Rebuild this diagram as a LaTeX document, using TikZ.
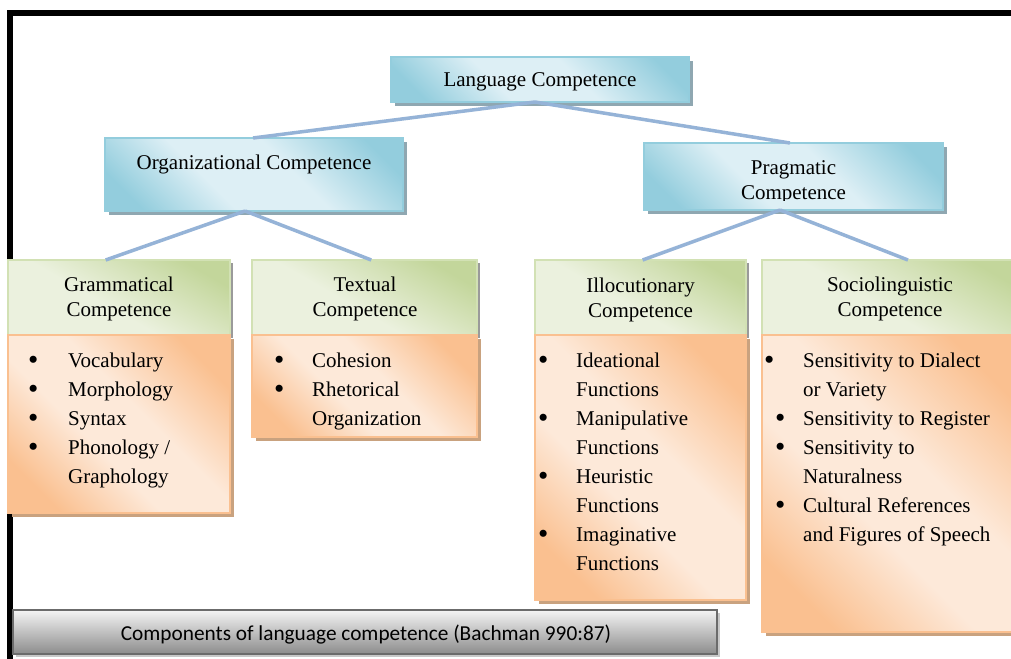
\documentclass[tikz,border=0pt]{standalone}
\usepackage{fontspec}
\setmainfont{Liberation Serif}
\newfontfamily\capfont{Carlito}
\usetikzlibrary{shadows,calc}
\definecolor{blueL}{HTML}{DDEFF5}
\definecolor{blueD}{HTML}{93CDDD}
\definecolor{blueB}{HTML}{93CDDD}
\definecolor{blueS}{HTML}{8FA7B1}
\definecolor{greenD}{HTML}{C3D69B}
\definecolor{greenL}{HTML}{EBF1DE}
\definecolor{greenB}{HTML}{D2E1B4}
\definecolor{greenS}{HTML}{9A9A9A}
\definecolor{orangeD}{HTML}{FAC090}
\definecolor{orangeL}{HTML}{FDE9D9}
\definecolor{orangeB}{HTML}{FAC090}
\definecolor{orangeS}{HTML}{C9A27F}
\definecolor{lineC}{HTML}{95B3D7}
\definecolor{capB}{HTML}{6B6B6B}
\definecolor{capT}{HTML}{F4F4F4}
\definecolor{capD}{HTML}{8C8C8C}
\definecolor{capS}{HTML}{C8C8C8}
\pgfdeclarehorizontalshading{blueband}{100bp}{color(0bp)=(blueD); color(22bp)=(blueD); color(40bp)=(blueL); color(58bp)=(blueL); color(78bp)=(blueD); color(100bp)=(blueD)}
\pgfdeclarehorizontalshading{orangeband}{100bp}{color(0bp)=(orangeD); color(24bp)=(orangeD); color(42bp)=(orangeL); color(56bp)=(orangeL); color(76bp)=(orangeD); color(100bp)=(orangeD)}
\pgfdeclarehorizontalshading{greenband}{100bp}{color(0bp)=(greenL); color(45bp)=(greenL); color(75bp)=(greenD); color(100bp)=(greenD)}
\newcommand\bul[1]{\llap{\makebox[0pt][c]{\raisebox{-2.8pt}{\scalebox{1.4}{\textbullet}}}\hspace{#1pt}}}
\tikzset{
  boxbase/.style={anchor=north west, inner sep=0pt, outer sep=0pt, line width=1.5pt},
  bluebox/.style={boxbase, draw=blueB, shading=blueband, shading angle=45,
    drop shadow={shadow xshift=4pt, shadow yshift=-4pt, fill=blueS, opacity=1}},
  greenbox/.style={boxbase, draw=greenB, shading=greenband, shading angle=60,
    drop shadow={shadow xshift=3pt, shadow yshift=-3pt, fill=greenS, opacity=1}},
  orangebox/.style={boxbase, draw=orangeB, shading=orangeband, shading angle=45,
    drop shadow={shadow xshift=4pt, shadow yshift=-4pt, fill=orangeS, opacity=1}},
  capbox/.style={boxbase, draw=capB, line width=2pt, top color=capT, bottom color=capD,
    drop shadow={shadow xshift=3pt, shadow yshift=-3pt, fill=capS, opacity=1}},
  conn/.style={draw=lineC, line width=3.5pt},
  txt/.style={inner sep=0pt, font=\fontsize{21}{25}\selectfont},
  listtxt/.style={inner sep=0pt, anchor=base west, font=\fontsize{21}{29}\selectfont},
  captxt/.style={inner sep=0pt, anchor=base, font=\capfont\fontsize{21.3}{25}\selectfont},
}
\begin{document}
\begin{tikzpicture}[x=1pt,y=-1pt]
\clip (0,0) rectangle (1011,658);
\fill[white] (0,0) rectangle (1011,658);
% frame
\draw[line width=6pt] (10,700) -- (10,13) -- (1030,13);

% boxes
\node[bluebox, minimum width=298pt, minimum height=45pt] (lang) at (391,57) {};
\node[bluebox, minimum width=298pt, minimum height=73pt] (org) at (105,138) {};
\node[bluebox, minimum width=299pt, minimum height=67pt] (prag) at (644,143) {};

\node[greenbox, minimum width=222pt, minimum height=75pt] (gramH) at (8,260) {};
\node[orangebox, minimum width=222pt, minimum height=178pt] (gramB) at (8,335) {};
\node[greenbox, minimum width=225pt, minimum height=75pt] (textH) at (252,260) {};
\node[orangebox, minimum width=225pt, minimum height=102pt] (textB) at (252,335) {};
\node[greenbox, minimum width=211pt, minimum height=75pt] (illH) at (535,260) {};
\node[orangebox, minimum width=211pt, minimum height=265pt] (illB) at (535,335) {};
\node[greenbox, minimum width=262pt, minimum height=75pt] (socH) at (762,260) {};
\node[orangebox, minimum width=262pt, minimum height=297pt] (socB) at (762,335) {};

\node[capbox, minimum width=704pt, minimum height=44pt] (cap) at (13,610) {};

% connectors
\draw[conn] ($(lang.south west)!0.483!(lang.south east)$) -- ($(org.north west)!0.497!(org.north east)$);
\draw[conn] ($(lang.south west)!0.483!(lang.south east)$) -- ($(prag.north west)!0.488!(prag.north east)$);
\draw[conn] ($(org.south west)!0.47!(org.south east)$) -- ($(gramH.north west)!0.44!(gramH.north east)$);
\draw[conn] ($(org.south west)!0.47!(org.south east)$) -- ($(textH.north west)!0.53!(textH.north east)$);
\draw[conn] ($(prag.south west)!0.455!(prag.south east)$) -- ($(illH.north west)!0.51!(illH.north east)$);
\draw[conn] ($(prag.south west)!0.455!(prag.south east)$) -- ($(socH.north west)!0.557!(socH.north east)$);

% texts of the upper boxes
\node[txt, anchor=base] (langT) at (540,87) {Language Competence};
\node[txt, anchor=base] (orgT) at (254,169) {Organizational Competence};
\begin{scope}
\clip (644,143) rectangle (943,200);
\node[txt, anchor=base] (pragT) at (793.5,174) {\begin{tabular}[t]{@{}c@{}}Pragmatic\\Competence\end{tabular}};
\end{scope}

% headers
\node[txt, anchor=base] (gramT) at (119,291) {\begin{tabular}[t]{@{}c@{}}Grammatical\\Competence\end{tabular}};
\node[txt, anchor=base] (textT) at (365,291) {\begin{tabular}[t]{@{}c@{}}Textual\\Competence\end{tabular}};
\node[txt, anchor=base] (illT) at (640.5,292) {\begin{tabular}[t]{@{}c@{}}Illocutionary\\Competence\end{tabular}};
\node[txt, anchor=base] (socT) at (890,291) {\begin{tabular}[t]{@{}c@{}}Sociolinguistic\\Competence\end{tabular}};

% lists
\node[listtxt] (gramL) at (68,367) {\begin{tabular}[t]{@{}l@{}}
\bul{35}Vocabulary\\
\bul{35}Morphology\\
\bul{35}Syntax\\
\bul{35}Phonology /\\
Graphology\end{tabular}};
\node[listtxt] (textL) at (312,367) {\begin{tabular}[t]{@{}l@{}}
\bul{33}Cohesion\\
\bul{33}Rhetorical\\
Organization\end{tabular}};
\node[listtxt] (illL) at (576,367) {\begin{tabular}[t]{@{}l@{}}
\bul{33}Ideational\\
Functions\\
\bul{33}Manipulative\\
Functions\\
\bul{33}Heuristic\\
Functions\\
\bul{33}Imaginative\\
Functions\end{tabular}};
\node[listtxt] (socL) at (803,367) {\begin{tabular}[t]{@{}l@{}}
\bul{34}Sensitivity to Dialect\\
or Variety\\
\bul{23}Sensitivity to Register\\
\bul{23}Sensitivity to\\
Naturalness\\
\bul{23}Cultural References\\
and Figures of Speech\end{tabular}};

% caption
\node[captxt] (capT) at (366,640) {Components of language competence (Bachman 990:87)};
\end{tikzpicture}
\end{document}
